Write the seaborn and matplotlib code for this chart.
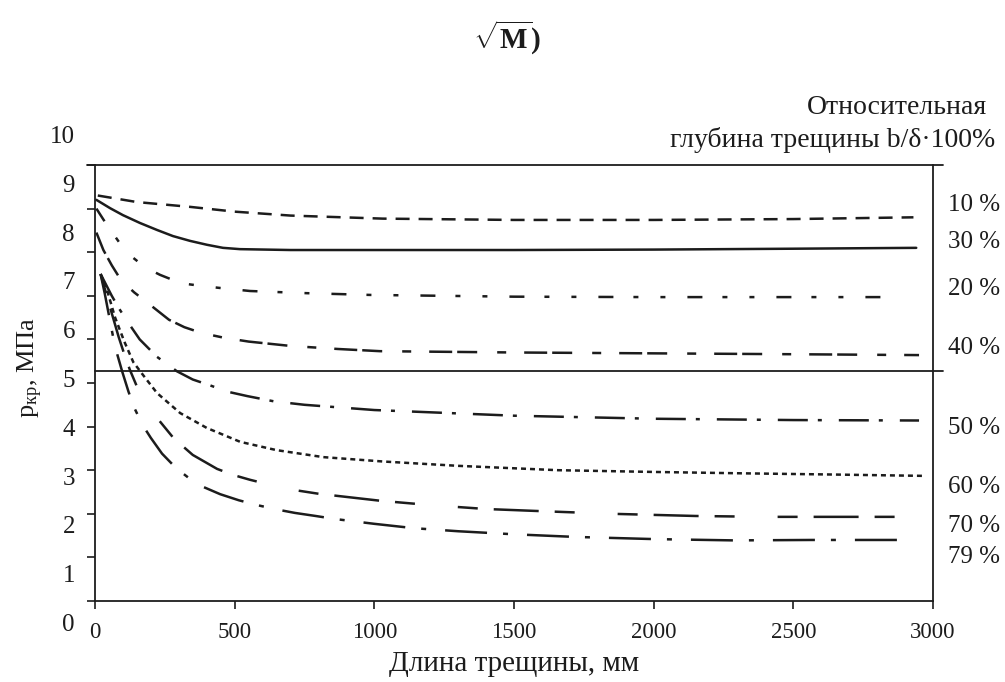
import numpy as np
import pandas as pd
import matplotlib
matplotlib.use("Agg")
import matplotlib.pyplot as plt
import matplotlib.transforms as mtransforms
import seaborn as sns

# ---------------- data ----------------
series_names = ["10 %", "30 %", "20 %", "40 %", "50 %", "60 %", "70 %", "79 %"]

x_10 = [10, 150, 340, 500, 700, 1030, 1500, 2000, 2500, 2930]
p_10 = [9.30, 9.15, 9.04, 8.93, 8.84, 8.77, 8.74, 8.74, 8.76, 8.80]

x_30 = [5, 18, 54, 100, 161, 222, 279, 340, 401, 458, 519, 700, 1000, 1500, 2000, 2500, 2940]
p_30 = [9.20, 9.15, 9.01, 8.85, 8.67, 8.51, 8.37, 8.26, 8.17, 8.10, 8.07, 8.05, 8.05, 8.05, 8.06, 8.08, 8.10]

x_20 = [5, 30, 61, 95, 137, 180, 233, 280, 329, 390, 447, 555, 759, 985, 1500, 2000, 2500, 2860]
p_20 = [9.00, 8.75, 8.46, 8.15, 7.87, 7.65, 7.48, 7.36, 7.27, 7.22, 7.18, 7.11, 7.06, 7.02, 6.98, 6.97, 6.97, 6.97]

x_40 = [5, 30, 60, 93, 140, 190, 265, 320, 380, 460, 550, 700, 870, 1020, 1500, 2000, 2500, 2950]
p_40 = [8.45, 8.05, 7.70, 7.36, 7.08, 6.83, 6.45, 6.28, 6.15, 6.04, 5.95, 5.85, 5.78, 5.73, 5.70, 5.68, 5.66, 5.64]

x_50 = [20, 40, 60, 85, 115, 160, 222, 293, 350, 410, 475, 545, 640, 750, 1000, 1500, 2000, 2500, 2950]
p_50 = [7.50, 7.25, 7.00, 6.72, 6.42, 6.00, 5.60, 5.27, 5.08, 4.95, 4.80, 4.70, 4.58, 4.50, 4.38, 4.25, 4.18, 4.15, 4.14]

x_60 = [20, 40, 72, 105, 137, 170, 222, 305, 400, 520, 650, 817, 1030, 1300, 1658, 2000, 2300, 2650, 2965]
p_60 = [7.50, 7.20, 6.50, 5.95, 5.48, 5.20, 4.77, 4.31, 3.97, 3.65, 3.46, 3.30, 3.20, 3.10, 3.00, 2.96, 2.93, 2.90, 2.87]

x_70 = [20, 40, 60, 85, 107, 125, 150, 185, 222, 282, 350, 437, 495, 555, 630, 709, 800, 1020, 1200, 1400, 1600, 1850, 2150, 2400, 2700, 2965]
p_70 = [7.50, 7.05, 6.60, 6.05, 5.62, 5.30, 4.92, 4.52, 4.20, 3.73, 3.35, 3.03, 2.89, 2.78, 2.66, 2.55, 2.46, 2.30, 2.20, 2.11, 2.06, 2.00, 1.95, 1.93, 1.93, 1.93]

x_79 = [20, 35, 50, 65, 80, 97, 120, 143, 170, 200, 240, 290, 340, 390, 448, 515, 580, 650, 716, 790, 860, 1000, 1142, 1300, 1500, 1718, 2000, 2288, 2567, 2925]
p_79 = [7.50, 7.05, 6.55, 6.05, 5.65, 5.27, 4.80, 4.40, 4.04, 3.74, 3.38, 3.05, 2.80, 2.61, 2.45, 2.31, 2.20, 2.10, 2.02, 1.95, 1.88, 1.77, 1.67, 1.60, 1.53, 1.47, 1.42, 1.39, 1.40, 1.40]

limit_level = 5.27          # solid horizontal reference line
x_ticks = [0, 500, 1000, 1500, 2000, 2500, 3000]
y_tick_values = list(range(0, 11))

# positions of the right-hand curve labels (data units, as printed)
label_y = [9.08, 8.23, 7.16, 5.80, 3.97, 2.61, 1.72, 1.01]

# ---------------- styling ----------------
sns.set_theme(style="ticks")
plt.rcParams["font.family"] = ["Liberation Serif", "DejaVu Serif"]
plt.rcParams["mathtext.fontset"] = "custom"
plt.rcParams["mathtext.rm"] = "Liberation Serif"
plt.rcParams["mathtext.bf"] = "Liberation Serif:bold"
plt.rcParams["lines.scale_dashes"] = False
ink = "#1c1c1c"

px = 72.0 / 100.0  # pixel -> point at dpi 100
dashes = {
    "10 %": (14 * px, 9 * px),
    "30 %": "",
    "20 %": (15 * px, 20 * px, 5 * px, 22 * px, 5 * px, 22 * px),
    "40 %": (23 * px, 5 * px, 20 * px, 20 * px, 9 * px, 18 * px),
    "50 %": (30 * px, 10 * px, 4 * px, 17 * px),
    "60 %": (5 * px, 4 * px),
    "70 %": (20 * px, 16 * px, 45 * px, 16 * px, 20 * px, 43 * px),
    "79 %": (42 * px, 16 * px, 5 * px, 19 * px),
}

xs = [x_10, x_30, x_20, x_40, x_50, x_60, x_70, x_79]
ps = [p_10, p_30, p_20, p_40, p_50, p_60, p_70, p_79]
df = pd.concat(
    [pd.DataFrame({"x": x, "p": p, "series": n}) for n, x, p in zip(series_names, xs, ps)],
    ignore_index=True,
)

fig = plt.figure(figsize=(10.05, 6.82), dpi=100)
ax = fig.add_axes([95 / 1005, 1 - 601 / 682, (933 - 95) / 1005, (601 - 165) / 682])

sns.lineplot(data=df, x="x", y="p", style="series", style_order=series_names,
             dashes=dashes, color=ink, linewidth=1.8, estimator=None, sort=False,
             legend=False, ax=ax)

ax.set_xlim(0, 3000)
ax.set_ylim(0, 10)
ax.set_xticks(x_ticks)
ax.set_yticks(y_tick_values)
ax.set_yticklabels([])
ax.tick_params(axis="both", direction="out", length=6, width=1.2, color=ink,
               labelsize=16.5, labelcolor=ink)
ax.tick_params(axis="x", pad=9)

for side in ["left", "bottom", "right"]:
    ax.spines[side].set_color(ink)
    ax.spines[side].set_linewidth(1.3)
ax.spines["top"].set_visible(False)

blend = mtransforms.blended_transform_factory(ax.transAxes, ax.transData)

# top border and reference line slightly overshooting the frame
ax.plot([-0.01, 1.012], [10, 10], color=ink, lw=1.3, transform=blend, clip_on=False)
ax.plot([0, 1.012], [limit_level, limit_level], color=ink, lw=1.3, transform=blend, clip_on=False)

# y tick labels as printed (the scanned labels are spread slightly wider than the ticks)
for v in y_tick_values:
    ax.text(-0.024, 1.119 * v - 0.55, str(v), transform=blend, ha="right", va="center",
            fontsize=18, color=ink, clip_on=False)

# curve labels at right
for name, ly in zip(series_names, label_y):
    ax.text(1.018, ly, name, transform=blend, ha="left", va="center",
            fontsize=18, color=ink, clip_on=False)

ax.set_xlabel("Длина трещины, мм", fontsize=21, color=ink, labelpad=6)
ax.set_ylabel("")
fig.text(30 / 1005, 1 - 367 / 682, r"$\mathregular{p_{кр}}$, МПа", rotation=90,
         ha="center", va="center", fontsize=19, color=ink)

fig.text(987 / 1005, 1 - 108 / 682, "Относительная", ha="right", va="center",
         fontsize=20, color=ink)
fig.text(995 / 1005, 1 - 140 / 682, "глубина трещины b/δ·100%", ha="right", va="center",
         fontsize=20, color=ink)

fig.text(507 / 1005, 1 - 38 / 682, r"$\sqrt{\mathbf{M}}$)", ha="center", va="center",
         fontsize=21, color=ink, fontweight="bold")

fig.savefig("out.png", dpi=100, facecolor="white")
